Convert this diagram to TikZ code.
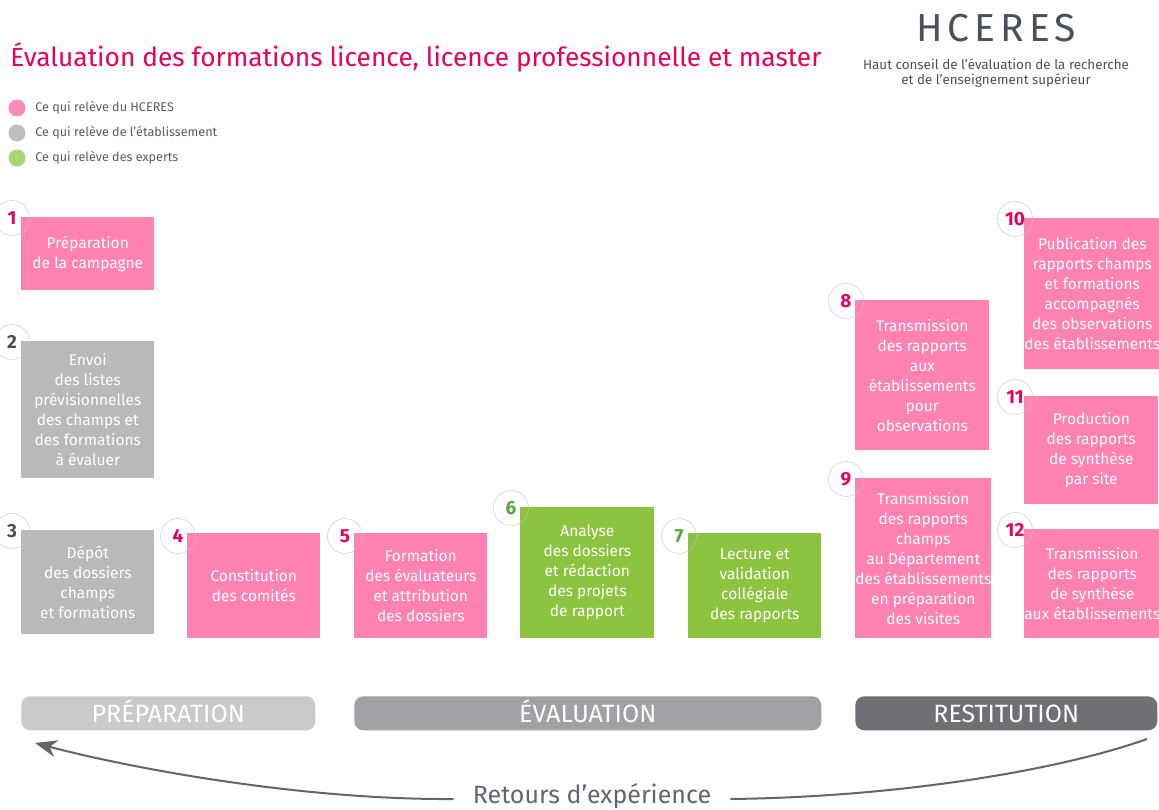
\documentclass[tikz,border=0pt]{standalone}
\usepackage{fontspec}
\setmainfont{Fira Sans}
\usetikzlibrary{arrows.meta,positioning}

\definecolor{hcpink}{HTML}{FF82B0}
\definecolor{hcgray}{HTML}{B8B9BB}
\definecolor{hcgreen}{HTML}{8CC440}
\definecolor{numpink}{HTML}{E8005E}
\definecolor{numgray}{HTML}{4B5058}
\definecolor{numgreen}{HTML}{52A840}
\definecolor{badgeline}{HTML}{C4C4C4}
\definecolor{legpink}{HTML}{FF8AB5}
\definecolor{leggray}{HTML}{BDBEC0}
\definecolor{leggreen}{HTML}{A8D672}
\definecolor{legtext}{HTML}{5A5A5A}
\definecolor{logogray}{HTML}{4A5059}
\definecolor{barlight}{HTML}{C9CACC}
\definecolor{barmid}{HTML}{A0A1A5}
\definecolor{bardark}{HTML}{6E7075}
\definecolor{arrowgray}{HTML}{5F6670}

\begin{document}
\begin{tikzpicture}[x=1pt,y=-1pt,>={Stealth[length=22pt,width=17pt,inset=7pt]},
                    semithick]
  \tikzstyle{box}=[rectangle,anchor=north west,inner sep=0pt,align=center,
                   text=white,minimum width=133pt,font=\fontsize{15.5}{20}\selectfont]
  \tikzstyle{badge}=[circle,draw=badgeline,thin,minimum size=35pt,inner sep=0pt,
                     font=\bfseries\fontsize{19}{19}\selectfont]
  \tikzstyle{legdot}=[circle,minimum size=17pt,inner sep=0pt]
  \tikzstyle{legtxt}=[anchor=west,inner sep=0pt,text=legtext,font=\fontsize{12.6}{12.6}\selectfont]
  \tikzstyle{bar}=[rectangle,rounded corners=9pt,anchor=north west,minimum height=34pt,
                   inner sep=0pt,text height=17.5pt,text depth=0pt,text=white,
                   font=\fontsize{25}{25}\selectfont]

  \useasboundingbox (0,0) rectangle (1159,809);

  % titre et logo
  \node[anchor=west,inner sep=0pt,text=numpink,font=\fontsize{26.3}{26.3}\selectfont]
        (titre) at (10,57) {Évaluation des formations licence, licence professionnelle et master};
  \node[text=logogray,inner sep=0pt,font=\addfontfeatures{LetterSpace=13}\fontsize{39}{39}\selectfont]
        (logo) at (996,28) {HCERES};
  \node[text=logogray,align=center,inner sep=0pt,font=\fontsize{13.4}{15}\selectfont]
        (sous) at (996,73) {Haut conseil de l’évaluation de la recherche\\et de l’enseignement supérieur};

  % legende
  \node[legdot,fill=legpink]  (lp) at (17,108) {};
  \node[legdot,fill=leggray]  (lg) at (17,133) {};
  \node[legdot,fill=leggreen] (lv) at (17,158) {};
  \node[legtxt] (tp) at (35,108) {Ce qui relève du HCERES};
  \node[legtxt] (tg) at (35,133) {Ce qui relève de l’établissement};
  \node[legtxt] (tv) at (35,158) {Ce qui relève des experts};

  % etapes
  \node[box,fill=hcpink,minimum height=73pt]  (b1) at (21,217) {Préparation\\de la campagne};
  \node[box,fill=hcgray,minimum height=137pt] (b2) at (21,341) {Envoi\\des listes\\prévisionnelles\\des champs et\\des formations\\à évaluer};
  \node[box,fill=hcgray,minimum height=104pt] (b3) at (21,530) {Dépôt\\des dossiers\\champs\\et formations};
  \node[box,fill=hcpink,minimum height=105pt] (b4) at (187,533) {Constitution\\des comités};
  \node[box,fill=hcpink,minimum height=105pt] (b5) at (354,533) {Formation\\des évaluateurs\\et attribution\\des dossiers};
  \node[box,fill=hcgreen,minimum height=131pt,minimum width=134pt] (b6) at (520,507) {Analyse\\des dossiers\\et rédaction\\des projets\\de rapport};
  \node[box,fill=hcgreen,minimum height=105pt] (b7) at (688,533) {Lecture et\\validation\\collégiale\\des rapports};
  \node[box,fill=hcpink,minimum height=150pt,minimum width=134pt] (b8) at (855,300) {Transmission\\des rapports\\aux\\établissements\\pour\\observations};
  \node[box,fill=hcpink,minimum height=160pt,minimum width=134pt] (b9) at (855,478) {Transmission\\des rapports\\champs\\au Département\\des établissements\\en préparation\\des visites};
  \node[box,fill=hcpink,minimum height=151pt,minimum width=134pt] (b10) at (1024,218) {Publication des\\rapports champs\\et formations\\accompagnés\\des observations\\des établissements};
  \node[box,fill=hcpink,minimum height=108pt,minimum width=134pt] (b11) at (1024,396) {Production\\des rapports\\de synthèse\\par site};
  \node[box,fill=hcpink,minimum height=109pt,minimum width=134pt] (b12) at (1024,529) {Transmission\\des rapports\\de synthèse\\aux établissements};

  % pastilles
  \node[badge,text=numpink]  (n1)  at ([xshift=-9pt,yshift=-1pt]b1.north west)  {1};
  \node[badge,text=numgray]  (n2)  at ([xshift=-9pt,yshift=-1pt]b2.north west)  {2};
  \node[badge,text=numgray]  (n3)  at ([xshift=-9pt,yshift=-1pt]b3.north west)  {3};
  \node[badge,text=numpink]  (n4)  at ([xshift=-9pt,yshift=-3pt]b4.north west)  {4};
  \node[badge,text=numpink]  (n5)  at ([xshift=-9pt,yshift=-3pt]b5.north west)  {5};
  \node[badge,text=numgreen] (n6)  at ([xshift=-9pt,yshift=-1pt]b6.north west)  {6};
  \node[badge,text=numgreen] (n7)  at ([xshift=-9pt,yshift=-3pt]b7.north west)  {7};
  \node[badge,text=numpink]  (n8)  at ([xshift=-9pt,yshift=-1pt]b8.north west)  {8};
  \node[badge,text=numpink]  (n9)  at ([xshift=-9pt,yshift=-1pt]b9.north west)  {9};
  \node[badge,text=numpink]  (n10) at ([xshift=-9pt,yshift=-1pt]b10.north west) {10};
  \node[badge,text=numpink]  (n11) at ([xshift=-9pt,yshift=-1pt]b11.north west) {11};
  \node[badge,text=numpink]  (n12) at ([xshift=-9pt,yshift=-1pt]b12.north west) {12};

  % phases
  \node[bar,fill=barlight,minimum width=294pt] (prep) at (21,696)  {PRÉPARATION};
  \node[bar,fill=barmid,minimum width=467pt]   (eval) at (354,696) {ÉVALUATION};
  \node[bar,fill=bardark,minimum width=302pt]  (rest) at (855,696) {RESTITUTION};

  % retours
  \node[text=arrowgray,inner xsep=19pt,inner ysep=0pt,font=\fontsize{25}{25}\selectfont]
        (ret) at (592,796) {Retours d’expérience};
  \coordinate (fbstart) at (1147,739);
  \coordinate (fbend) at (35,743);
  \draw[arrowgray,line width=2pt] (fbstart) .. controls (1060,770) and (900,797) .. ([yshift=-3pt]ret.east);
  \draw[arrowgray,line width=2pt,->] ([yshift=-3pt]ret.west) .. controls (300,800) and (130,768) .. (fbend);
\end{tikzpicture}
\end{document}
